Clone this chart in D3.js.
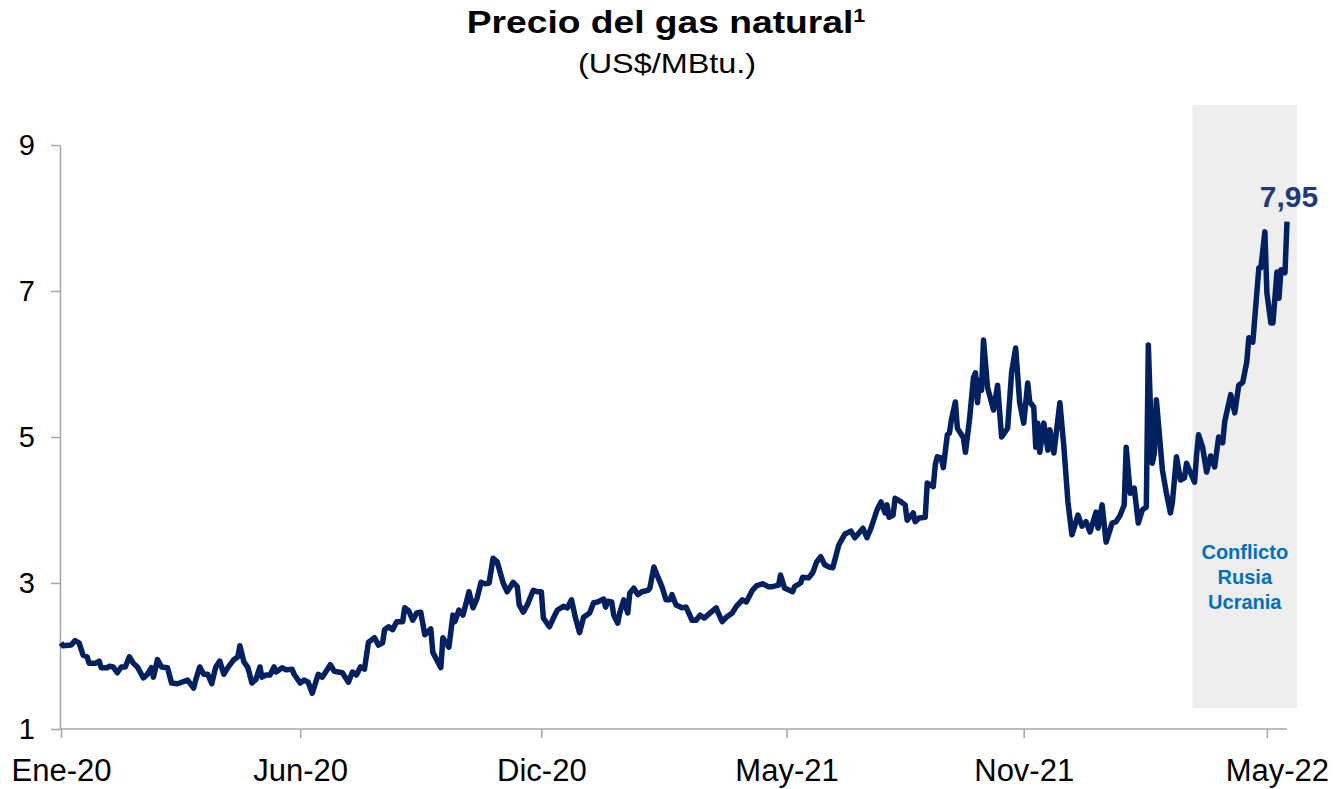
<!DOCTYPE html>
<html>
<head>
<meta charset="utf-8">
<script src="https://cdn.jsdelivr.net/npm/d3@7"></script>
<style>
  body { margin: 0; background: #fff; }
  svg { font-family: "Liberation Sans", Arial, sans-serif; }
  .axis path, .axis line { stroke: #a6a6a6; stroke-width: 1.5; }
  .axis text { fill: #000; }
</style>
</head>
<body>
<div class="chart"></div>
<script>
// trading-day index (0 = first trading day of Jan-20) and price, US$/MBtu
const days = [0,1,5,7,9,11,13,14,17,19,20,23,24,26,28,30,32,34,36,38,41,43,45,46,48,50,53,55,58,60,63,66,67,69,71,73,75,77,79,81,83,86,88,89,91,93,95,97,99,100,102,104,106,107,110,112,115,116,
  119,121,123,125,128,130,134,136,140,143,145,147,149,151,153,156,158,160,161,163,165,167,170,171,173,175,177,179,181,184,185,189,190,193,195,196,198,200,202,203,205,207,209,211,213,215,217,220,222,225,227,228,230,232,235,237,
  239,240,243,245,247,250,252,254,256,258,260,263,265,267,270,271,272,274,275,277,278,280,282,283,285,287,289,292,293,295,297,299,301,303,304,306,309,311,314,316,318,320,323,326,327,329,331,334,336,339,341,344,346,349,352,354,357,358,
  360,364,365,368,369,372,374,376,378,380,382,384,387,390,393,395,399,401,403,406,408,410,411,412,414,415,418,420,421,424,425,427,430,431,434,435,436,438,439,441,442,443,445,446,449,450,452,454,455,456,457,458,459,461,464,466,468,471,473,475,477,
  479,481,482,484,485,486,487,489,491,492,494,497,499,501,503,506,508,510,512,515,516,518,520,523,525,527,529,530,532,534,536,538,540,541,543,544,545,548,550,552,553,555,557,559,560,562,564,565,566,568,570,572,574,576,578,579,582,584,586,588,590,591,593,594,596,597,599,
  600,602,603,605,606,607,609,610];
const price = [2.18,2.14,2.15,2.21,2.18,2.01,1.99,1.90,1.90,1.93,1.84,1.84,1.86,1.85,1.77,1.85,1.85,1.99,1.90,1.85,1.70,1.75,1.84,1.71,1.95,1.85,1.84,1.63,1.62,1.64,1.67,1.56,1.67,1.85,1.75,1.75,1.62,1.85,1.93,1.75,1.84,1.95,1.99,2.14,1.92,1.84,1.63,1.68,1.85,1.71,1.74,1.74,1.85,1.78,1.84,1.81,1.82,1.75,
  1.63,1.67,1.64,1.49,1.75,1.71,1.88,1.79,1.77,1.64,1.78,1.74,1.85,1.82,2.19,2.25,2.15,2.18,2.36,2.40,2.36,2.47,2.47,2.66,2.62,2.49,2.59,2.60,2.29,2.37,2.05,1.84,2.25,2.12,2.56,2.47,2.63,2.56,2.77,2.88,2.66,2.79,3.01,2.99,3.00,3.34,3.29,3.00,2.88,3.01,2.95,2.70,2.60,2.70,2.90,2.88,
  2.88,2.52,2.40,2.52,2.63,2.68,2.66,2.77,2.52,2.32,2.53,2.59,2.73,2.74,2.78,2.67,2.75,2.74,2.56,2.45,2.59,2.77,2.59,2.86,2.93,2.84,2.88,2.90,2.93,3.22,3.08,2.95,2.77,2.77,2.84,2.70,2.66,2.67,2.49,2.49,2.56,2.52,2.59,2.66,2.59,2.47,2.53,2.59,2.68,2.77,2.74,2.90,2.96,2.99,2.95,2.95,2.97,3.11,
  2.93,2.88,2.95,3.00,3.08,3.07,3.14,3.29,3.36,3.25,3.22,3.21,3.52,3.67,3.71,3.62,3.75,3.62,3.75,4.00,4.11,3.96,4.07,3.90,3.93,4.16,4.11,4.07,3.86,3.96,3.84,3.89,3.90,4.37,4.32,4.62,4.73,4.71,4.58,5.03,5.05,5.23,5.48,5.12,4.99,4.79,5.23,5.81,5.88,5.47,5.78,5.64,6.33,5.68,5.37,5.71,5.00,5.12,5.89,6.22,5.47,
  5.19,5.74,5.48,5.41,4.86,5.19,4.79,5.19,4.82,5.10,4.78,5.47,4.86,4.11,3.66,3.93,3.78,3.84,3.70,3.97,3.75,4.07,3.56,3.82,3.84,3.93,4.07,4.86,4.23,4.30,3.82,4.00,4.04,6.26,4.64,4.78,5.51,4.55,4.23,3.96,4.11,4.73,4.41,4.44,4.64,4.51,4.38,4.75,5.03,4.86,4.52,4.74,4.59,5.00,4.92,5.21,5.58,5.33,5.71,5.75,6.03,6.36,6.30,6.64,7.32,7.32,7.81,
  6.97,6.56,6.56,7.26,6.90,7.29,7.25,7.95];

const tickDays = [0, 119, 239, 361, 479, 600];
const tickLabels = ['Ene-20', 'Jun-20', 'Dic-20', 'May-21', 'Nov-21', 'May-22'];
const yTicks = [1, 3, 5, 7, 9];
const conflict = { start: 563, end: 615, label: ['Conflicto', 'Rusia', 'Ucrania'] };
const lastLabel = '7,95';

const W = 1333, H = 789;
const svg = d3.select('.chart').append('svg').attr('width', W).attr('height', H);

const x = d3.scaleLinear().domain([0, 610]).range([61, 1287]);
const y = d3.scaleLinear().domain([1, 9]).range([729, 145]);

// shaded band for the conflict
svg.append('rect')
  .attr('x', x(conflict.start))
  .attr('width', x(conflict.end) - x(conflict.start))
  .attr('y', 105)
  .attr('height', 603)
  .style('fill', '#eeeeee');

const cx = (x(conflict.start) + x(conflict.end)) / 2;
svg.append('text')
  .attr('x', cx)
  .attr('y', 559)
  .attr('text-anchor', 'middle')
  .style('font-size', '20px').style('font-weight', 'bold').style('fill', '#0070c0')
  .selectAll('tspan').data(conflict.label).join('tspan')
  .attr('x', cx)
  .attr('dy', (d, i) => i ? 25 : 0)
  .text(d => d);

// axes
svg.append('g').attr('class', 'axis')
  .attr('transform', 'translate(0,' + y(1) + ')')
  .call(d3.axisBottom(x).tickValues(tickDays).tickFormat((d, i) => tickLabels[i]).tickSize(9).tickSizeOuter(0).tickPadding(21))
  .call(g => g.select('.domain').attr('d', 'M60,0H1287'))
  .call(g => g.selectAll('text').style('font-size', '31px'))
  // last label sits a bit right of its tick, as in the source
  .call(g => g.selectAll('.tick:last-of-type text').attr('dx', 10));

svg.append('g').attr('class', 'axis')
  .attr('transform', 'translate(60,0)')
  .call(d3.axisLeft(y).tickValues(yTicks).tickSize(9).tickSizeOuter(0).tickPadding(16))
  .call(g => g.selectAll('text').style('font-size', '29px'));

// price line
const line = d3.line().x((d, i) => x(days[i])).y(d => y(d));
svg.append('path')
  .datum(price)
  .attr('d', line)
  .style('fill', 'none')
  .style('stroke', '#002060')
  .style('stroke-width', 5.5)
  .style('stroke-linejoin', 'round');

// last value
svg.append('text')
  .attr('x', x(days[days.length - 1]) + 2)
  .attr('y', y(price[price.length - 1]) - 15)
  .attr('text-anchor', 'middle')
  .style('font-size', '30px').style('font-weight', 'bold').style('fill', '#1f3a7c')
  .text(lastLabel);

// titles (slightly widened, as in the source)
const t = svg.append('text').attr('transform', 'translate(666,33) scale(1.2,1)').attr('text-anchor', 'middle')
  .style('font-size', '31px').style('font-weight', 'bold');
t.append('tspan').text('Precio del gas natural');
t.append('tspan').attr('dy', -11).style('font-size', '18px').text('1');

svg.append('text').attr('transform', 'translate(667,73) scale(1.2,1)').attr('text-anchor', 'middle')
  .style('font-size', '27px').text('(US$/MBtu.)');
</script>
</body>
</html>
